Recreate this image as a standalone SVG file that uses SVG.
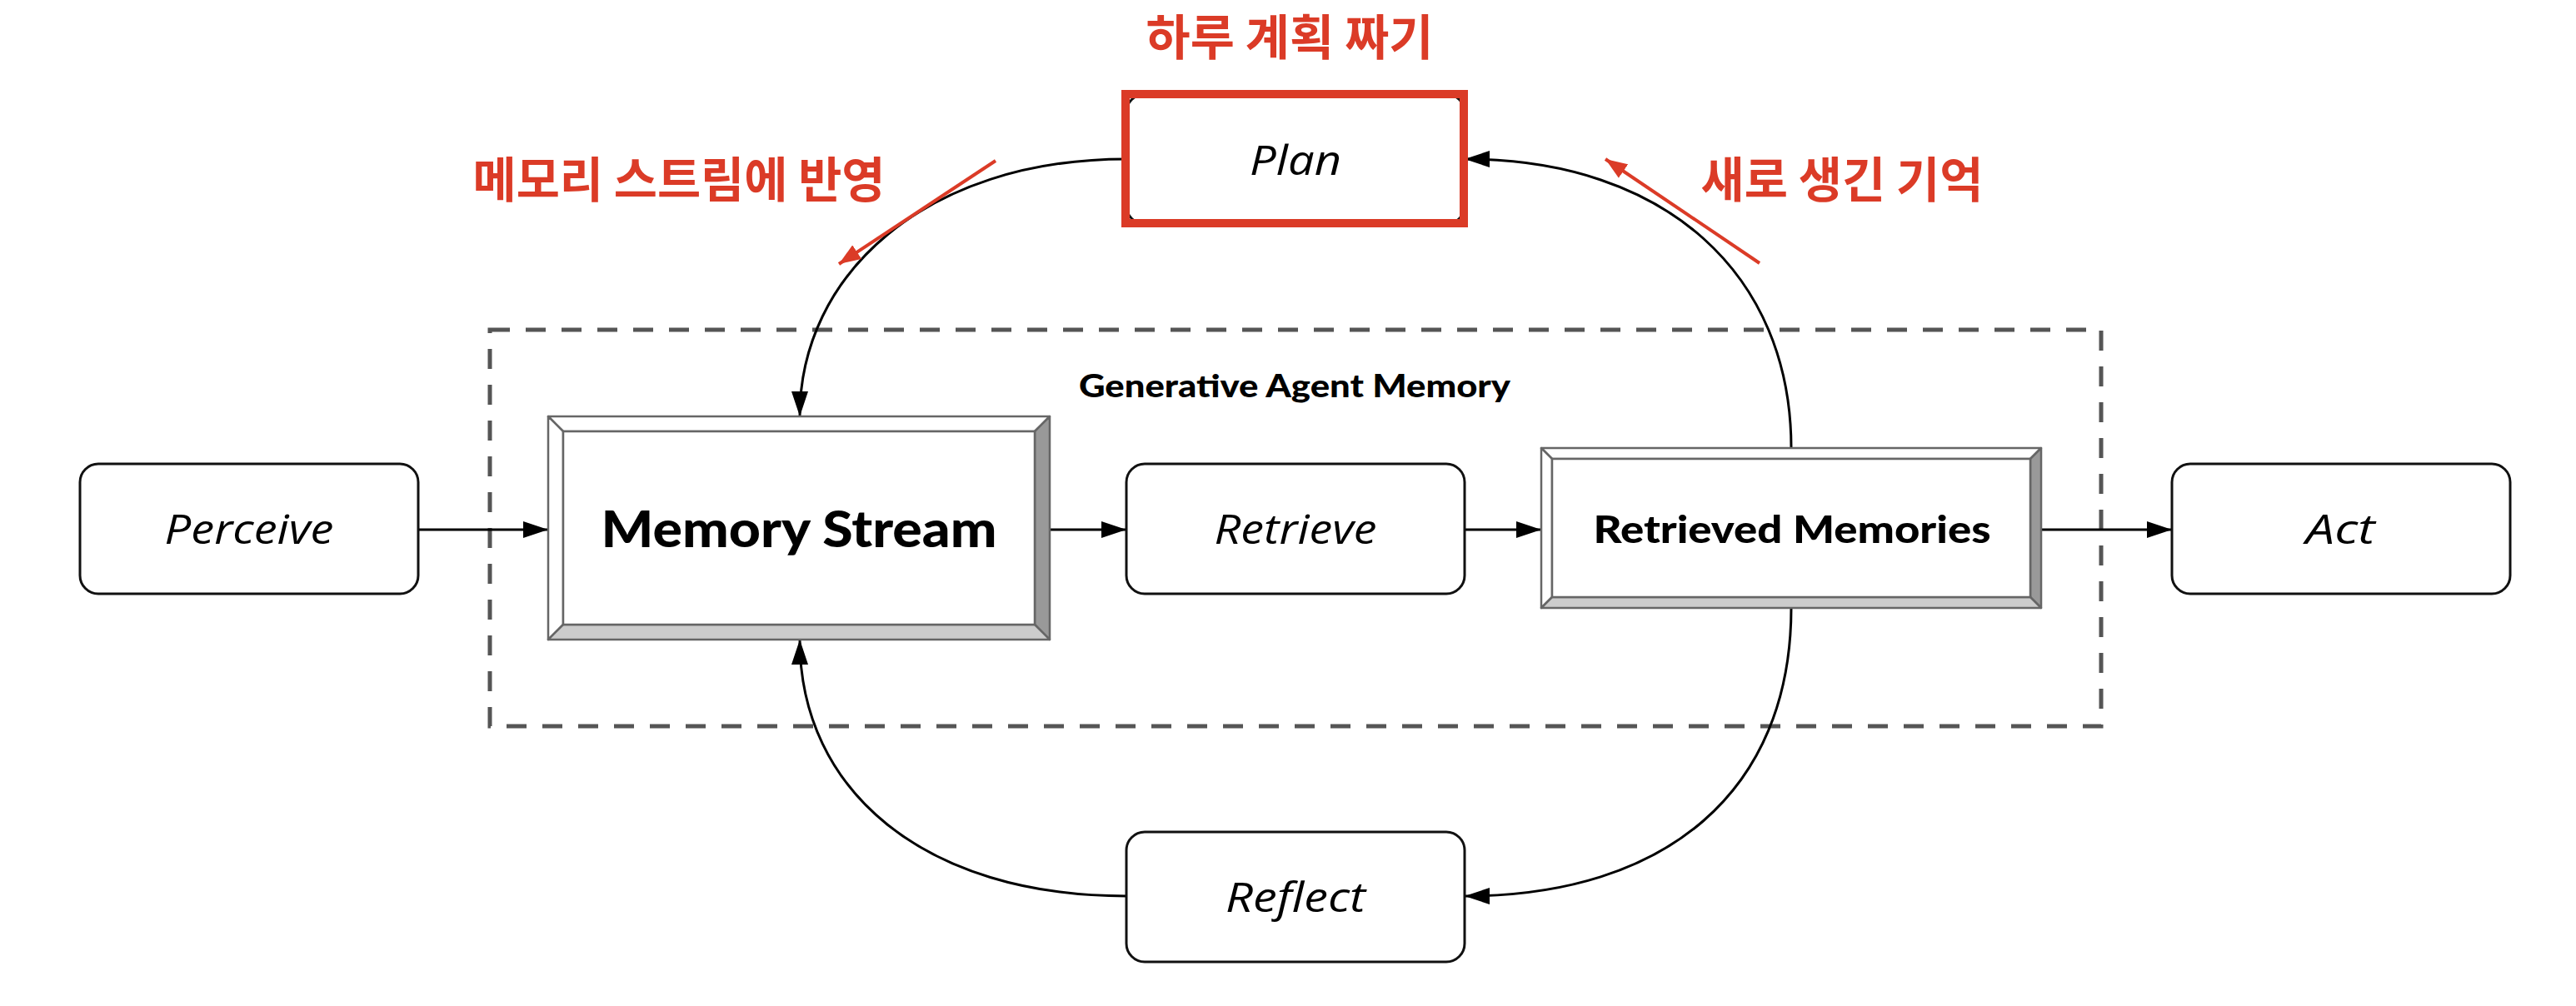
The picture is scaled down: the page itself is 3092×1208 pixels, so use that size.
<svg xmlns="http://www.w3.org/2000/svg" width="3092" height="1208" viewBox="0 0 3092 1208">
<style>
.node{fill:#fff;stroke:#111;stroke-width:3}
.lbl{font-family:"Open Sans",Lato,"Liberation Sans",sans-serif;font-style:italic;font-size:50px;fill:#000;text-anchor:middle}
.bold{font-family:Lato,"Liberation Sans",sans-serif;font-weight:900;fill:#000;text-anchor:middle}
.bev{stroke:#666;stroke-width:2.5;stroke-linejoin:round}
.conn{fill:none;stroke:#000;stroke-width:3}
.red{font-family:"Noto Sans CJK KR",sans-serif;font-weight:700;font-size:58px;fill:#DB3B27;text-anchor:middle}
.redline{fill:none;stroke:#DB3B27;stroke-width:4}
</style>
<defs>
<marker id="ah" markerWidth="30" markerHeight="20" refX="30" refY="10" orient="auto" markerUnits="userSpaceOnUse"><path d="M0,0 L30,10 L0,20 z" fill="#000"/></marker>
<marker id="rh" markerWidth="26" markerHeight="20" refX="26" refY="10" orient="auto" markerUnits="userSpaceOnUse"><path d="M0,0 L26,10 L0,20 z" fill="#DB3B27"/></marker>
</defs>
<rect width="3092" height="1208" fill="#fff"/>

<g id="agent-memory-group">
<rect x="588" y="396" width="1934" height="476" fill="none" stroke="#555" stroke-width="5" stroke-dasharray="24 19"/>
<text class="bold" x="1554" y="477" font-size="37" font-weight="700" textLength="518" lengthAdjust="spacingAndGlyphs">Generative Agent Memory</text>
</g>

<g id="connectors">
<line class="conn" x1="502" y1="636" x2="658" y2="636" marker-end="url(#ah)"/>
<line class="conn" x1="1260" y1="636" x2="1352" y2="636" marker-end="url(#ah)"/>
<line class="conn" x1="1758" y1="636" x2="1850" y2="636" marker-end="url(#ah)"/>
<line class="conn" x1="2450" y1="636" x2="2607" y2="636" marker-end="url(#ah)"/>
<path class="conn" d="M1352,191 C1110,191 960,330 960,500" marker-end="url(#ah)"/>
<path class="conn" d="M2150,538 C2150,330 2000,191 1758,191" marker-end="url(#ah)"/>
<path class="conn" d="M2150,730 C2150,950 2000,1076 1758,1076" marker-end="url(#ah)"/>
<path class="conn" d="M1352,1076 C1110,1076 960,950 960,768" marker-end="url(#ah)"/>
</g>

<g id="perceive">
<rect class="node" x="96" y="557" width="406" height="156" rx="22"/>
<text class="lbl" x="299" y="653" textLength="203" lengthAdjust="spacingAndGlyphs">Perceive</text>
</g>

<g id="memory-stream">
<rect x="658" y="500" width="602" height="268" fill="#fff"/>
<polygon class="bev" points="658,500 1260,500 1242,518 676,518" fill="#fff"/>
<polygon class="bev" points="658,500 676,518 676,750 658,768" fill="#fff"/>
<polygon class="bev" points="1260,500 1260,768 1242,750 1242,518" fill="#999"/>
<polygon class="bev" points="658,768 1260,768 1242,750 676,750" fill="#ccc"/>
<rect class="bev" x="676" y="518" width="566" height="232" fill="#fff"/>
<text class="bold" x="959" y="657" font-size="60" textLength="475" lengthAdjust="spacingAndGlyphs">Memory Stream</text>
</g>

<g id="retrieve">
<rect class="node" x="1352" y="557" width="406" height="156" rx="22"/>
<text class="lbl" x="1555" y="653" textLength="195" lengthAdjust="spacingAndGlyphs">Retrieve</text>
</g>

<g id="retrieved-memories">
<rect x="1850" y="538" width="600" height="192" fill="#fff"/>
<polygon class="bev" points="1850,538 2450,538 2437,551 1863,551" fill="#fff"/>
<polygon class="bev" points="1850,538 1863,551 1863,717 1850,730" fill="#fff"/>
<polygon class="bev" points="2450,538 2450,730 2437,717 2437,551" fill="#999"/>
<polygon class="bev" points="1850,730 2450,730 2437,717 1863,717" fill="#ccc"/>
<rect class="bev" x="1863" y="551" width="574" height="166" fill="#fff"/>
<text class="bold" x="2151" y="652" font-size="46" font-weight="700" textLength="477" lengthAdjust="spacingAndGlyphs">Retrieved Memories</text>
</g>

<g id="act">
<rect class="node" x="2607" y="557" width="406" height="156" rx="22"/>
<text class="lbl" x="2809" y="653" textLength="83" lengthAdjust="spacingAndGlyphs">Act</text>
</g>

<g id="reflect">
<rect class="node" x="1352" y="999" width="406" height="156" rx="22"/>
<text class="lbl" x="1555" y="1095" textLength="168" lengthAdjust="spacingAndGlyphs">Reflect</text>
</g>

<g id="plan">
<rect class="node" x="1352" y="113" width="406" height="156" rx="22"/>
<rect x="1351" y="113" width="406" height="155" fill="none" stroke="#DB3B27" stroke-width="10"/>
<text class="lbl" x="1555" y="210" textLength="110" lengthAdjust="spacingAndGlyphs">Plan</text>
</g>

<g id="annotations">
<text class="red" x="1548" y="66" textLength="345" lengthAdjust="spacingAndGlyphs">하루 계획 짜기</text>
<text class="red" x="815" y="237" textLength="495" lengthAdjust="spacingAndGlyphs">메모리 스트림에 반영</text>
<text class="red" x="2211" y="237" textLength="339" lengthAdjust="spacingAndGlyphs">새로 생긴 기억</text>
<line class="redline" x1="1195" y1="193" x2="1007" y2="317" marker-end="url(#rh)"/>
<line class="redline" x1="2112" y1="316" x2="1927" y2="191" marker-end="url(#rh)"/>
</g>
</svg>
